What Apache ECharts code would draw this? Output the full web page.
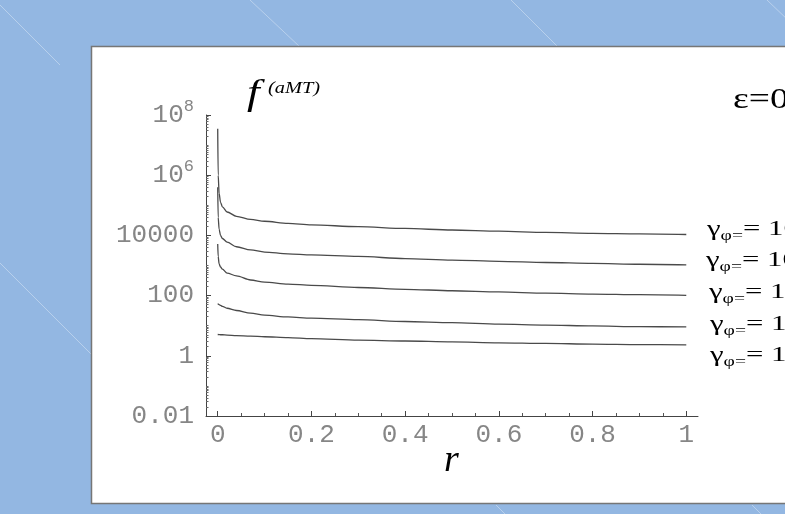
<!DOCTYPE html>
<html>
<head>
<meta charset="utf-8">
<script src="https://cdn.jsdelivr.net/npm/echarts@6/dist/echarts.min.js"></script>
<style>
  html, body { margin: 0; padding: 0; background: #93b7e2; }
  #chart { width: 785px; height: 514px; }
</style>
</head>
<body>
<div id="chart"></div>
<script>
const r = [0, 0.001, 0.003, 0.006, 0.01, 0.02, 0.04, 0.07, 0.1, 0.15, 0.2, 0.3, 0.4, 0.5, 0.6, 0.7, 0.8, 0.9, 1.0];

// f(aMT) for each gamma_phi
const gamma10000 = [3.5e7, 1.0e6, 2.5e5, 1.26e5, 8.9e4, 6.0e4, 4.3e4, 3.4e4, 2.95e4, 2.5e4, 2.24e4, 1.95e4, 1.7e4, 1.51e4, 1.38e4, 1.26e4, 1.17e4, 1.12e4, 1.07e4];
const gamma1000 = [4.0e5, 4.0e4, 1.6e4, 1.0e4, 7.9e3, 6.0e3, 4.2e3, 3.3e3, 2.8e3, 2.45e3, 2.24e3, 2.0e3, 1.7e3, 1.51e3, 1.38e3, 1.26e3, 1.17e3, 1.1e3, 1.05e3];
const gamma100 = [5.2e3, 2.0e3, 1.12e3, 890, 760, 560, 450, 330, 280, 240, 220, 186, 162, 145, 132, 120, 112, 107, 102];
const gamma10 = [54, 52, 50, 47, 44, 38, 32, 26, 22.4, 19.5, 17.8, 15.8, 13.8, 12.6, 11.2, 10.5, 9.8, 9.3, 9.1];
const gamma1 = [5.1, 5.1, 5.07, 5.0, 5.0, 4.9, 4.7, 4.5, 4.3, 4.0, 3.7, 3.3, 3.1, 2.9, 2.7, 2.57, 2.45, 2.35, 2.3];

const gammaLabels = ['10000', '1000', '100', '10', '1'];
const xTicks = [0, 0.2, 0.4, 0.6, 0.8, 1];
const xMinorTicks = [0.05, 0.1, 0.15, 0.25, 0.3, 0.35, 0.45, 0.5, 0.55, 0.65, 0.7, 0.75, 0.85, 0.9, 0.95];
const yTicks = [0.01, 1, 100, 10000, 1e6, 1e8];
const yTickLabels = ['0.01', '1', '100', '10000', '10^6', '10^8'];

// minor log ticks: every decade plus 2..9 inside each decade
const yMinorTicks = [];
for (let e = -2; e < 8; e++) {
  for (let k = 1; k < 10; k++) {
    if (k === 1 && e % 2 === 0) continue;
    yMinorTicks.push(k * Math.pow(10, e));
  }
}

const serif = '"Liberation Serif", "DejaVu Serif", serif';
const mono = '"Liberation Mono", "DejaVu Sans Mono", monospace';
const tickGray = '#868686';

function yLabel(v) {
  const lg = Math.round(Math.log10(v));
  const i = yTicks.findIndex(t => Math.round(Math.log10(t)) === lg);
  if (i < 0) return '';
  const txt = yTickLabels[i];
  if (txt.indexOf('^') > 0) {
    const p = txt.split('^');
    return '{b|' + p[0] + '}{s|' + p[1] + '}';
  }
  return '{b|' + txt + '}';
}

const curves = [gamma10000, gamma1000, gamma100, gamma10, gamma1];
const series = curves.map((vals, i) => ({
  name: 'gamma ' + gammaLabels[i],
  type: 'line',
  data: r.map((x, j) => [x, vals[j]]),
  showSymbol: false,
  smooth: 0.3,
  smoothMonotone: 'x',
  lineStyle: { color: '#4a4a4a', width: 1.3 },
  silent: true,
  z: 5
}));

const labelMids = [229, 260, 292, 324, 355];
const labelLefts = [707, 706, 709, 710, 710];

const bgLines = [
  [0, 5, 60, 65], [250, 0, 300, 47], [511, 0, 558, 47], [767, 0, 790, 22],
  [0, 263, 92, 355], [496, 505, 505, 514], [752, 505, 761, 514]
];

const graphic = [];
bgLines.forEach(l => graphic.push({
  type: 'line', z: -30, silent: true,
  shape: { x1: l[0], y1: l[1], x2: l[2], y2: l[3] },
  style: { stroke: 'rgba(255,255,255,0.35)', lineWidth: 1 }
}));
graphic.push({
  type: 'rect', z: -20, silent: true,
  shape: { x: 91.5, y: 46.5, width: 720, height: 457 },
  style: { fill: '#ffffff', stroke: '#767676', lineWidth: 1.5 }
});

function txt(x, y, text, font, sx) {
  return {
    type: 'text', z: 50, x: x, y: y, scaleX: sx || 1,
    style: { x: 0, y: 0, text: text, font: font, fill: '#000', align: 'left', verticalAlign: 'middle' }
  };
}
graphic.push(txt(247, 95, 'f', 'italic 35px ' + serif, 1.3));
graphic.push(txt(268, 89, '(aMT)', 'italic 17px ' + serif, 1.2));
graphic.push(txt(733, 100, 'ε=0', '30px ' + serif, 1.25));
graphic.push(txt(444, 461, 'r', 'italic 38px ' + serif, 1));

gammaLabels.forEach((g, i) => graphic.push({
  type: 'text', z: 50, x: labelLefts[i], y: labelMids[i], scaleX: 1.4,
  style: {
    x: 0, y: 0, align: 'left', verticalAlign: 'middle',
    text: '{g|γ}{s|φ=}{e|= ' + g + '}',
    fill: '#000',
    rich: {
      g: { fontFamily: serif, fontSize: 22, verticalAlign: 'middle' },
      s: { fontFamily: serif, fontSize: 14, verticalAlign: 'middle', padding: [15, 0, 0, 0] },
      e: { fontFamily: serif, fontSize: 22, verticalAlign: 'middle' }
    }
  }
}));

const chart = echarts.init(document.getElementById('chart'));
chart.setOption({
  backgroundColor: '#93b7e2',
  animation: false,
  grid: { left: 206, right: 87, top: 115, bottom: 98, outerBoundsMode: 'none' },
  xAxis: [{
    type: 'value', min: -0.025, max: 1.025,
    axisLine: { show: true, onZero: false, lineStyle: { color: '#444', width: 1 } },
    axisTick: { show: true, inside: true, length: 5, customValues: xTicks, lineStyle: { color: '#444' } },
    axisLabel: {
      customValues: xTicks, margin: 6, color: tickGray, fontFamily: mono, fontSize: 26,
      formatter: v => String(Math.round(v * 10) / 10)
    },
    splitLine: { show: false }
  }, {
    type: 'value', min: -0.025, max: 1.025, position: 'bottom',
    axisLine: { show: false, onZero: false },
    axisTick: { show: true, inside: true, length: 3, customValues: xMinorTicks, lineStyle: { color: '#555' } },
    axisLabel: { show: false },
    splitLine: { show: false }
  }],
  yAxis: [{
    type: 'log', logBase: 100, min: 0.01, max: 1e8,
    axisLine: { show: true, onZero: false, lineStyle: { color: '#444', width: 1 } },
    axisTick: { show: true, inside: true, length: 5, lineStyle: { color: '#444' } },
    axisLabel: {
      margin: 12, color: tickGray, formatter: yLabel,
      rich: {
        b: { fontFamily: mono, fontSize: 26, color: tickGray, verticalAlign: 'middle' },
        s: { fontFamily: mono, fontSize: 17, color: tickGray, verticalAlign: 'middle', padding: [0, 0, 17, 0] }
      }
    },
    splitLine: { show: false },
    minorTick: { show: false }
  }, {
    type: 'log', min: 0.01, max: 1e8, position: 'left',
    axisLine: { show: false, onZero: false },
    axisTick: { show: true, inside: true, length: 2.5, customValues: yMinorTicks, lineStyle: { color: '#666' } },
    axisLabel: { show: false },
    splitLine: { show: false }
  }],
  graphic: graphic,
  series: series
});
</script>
</body>
</html>
